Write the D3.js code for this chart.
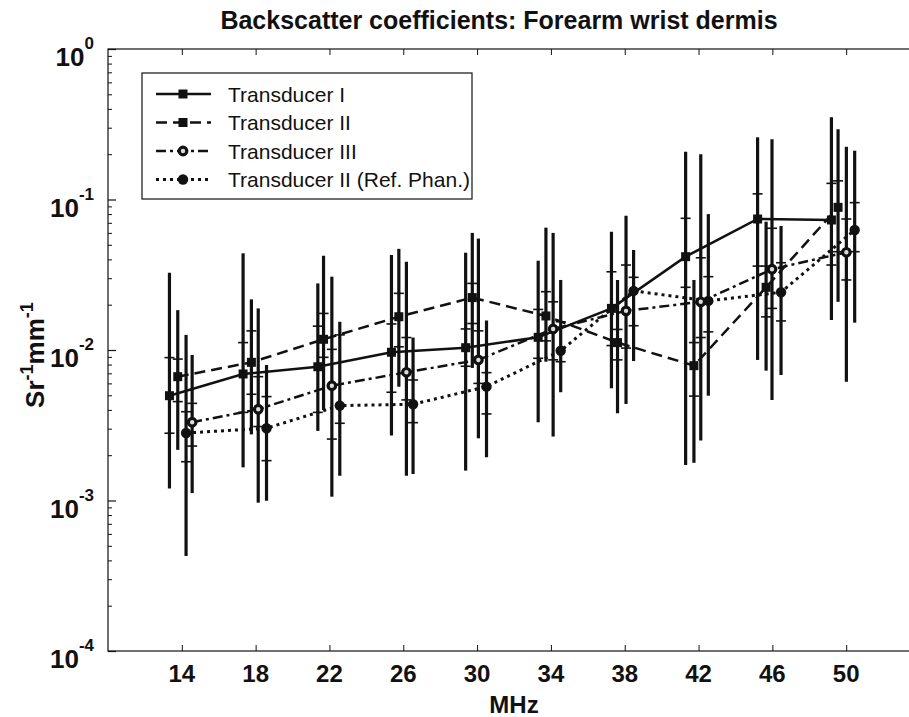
<!DOCTYPE html>
<html>
<head>
<meta charset="utf-8">
<script src="https://cdn.jsdelivr.net/npm/d3@7"></script>
<style>
  html, body { margin: 0; padding: 0; background: #fff; }
  svg { display: block; font-family: "Liberation Sans", Arial, sans-serif; }
</style>
</head>
<body>
<svg id="chart" width="909" height="717"></svg>
<script>
// Frequency ticks (MHz) and decade ticks
const freqTicks = [14, 18, 22, 26, 30, 34, 38, 42, 46, 50];
const decadeExps = [-4, -3, -2, -1, 0];

const seriesNames = ["Transducer I", "Transducer II", "Transducer III", "Transducer II (Ref. Phan.)"];

// Transducer I
const t1X     = [13.33, 17.32, 21.37, 25.36, 29.38, 33.31, 37.28, 41.30, 45.20, 49.20];
const t1Mean  = [0.00497, 0.00693, 0.00774, 0.00966, 0.01036, 0.01214, 0.0189, 0.0417, 0.0742, 0.0731];
const t1Hi    = [0.0326, 0.0439, 0.0277, 0.0428, 0.0443, 0.0392, 0.0611, 0.208, 0.259, 0.352];
const t1Lo    = [0.00120, 0.00166, 0.0029, 0.0027, 0.00158, 0.00331, 0.00556, 0.00172, 0.00859, 0.0158];
const t1SdHi  = [0.0089, 0.0112, 0.0144, 0.0149, 0.0138, 0.0186, 0.0331, 0.075, 0.109, 0.128];
const t1SdLo  = [0.0028, 0.00385, 0.00385, 0.00524, 0.0078, 0.00881, 0.0107, 0.0261, 0.0361, 0.0367];

// Transducer II
const t2X     = [13.78, 17.77, 21.68, 25.76, 29.74, 33.73, 37.61, 41.75, 45.66, 49.56];
const t2Mean  = [0.00665, 0.00828, 0.01178, 0.01664, 0.0223, 0.01683, 0.0112, 0.00787, 0.0261, 0.0887];
const t2Hi    = [0.0184, 0.0217, 0.0423, 0.047, 0.060, 0.065, 0.0292, 0.0292, 0.0712, 0.293];
const t2Lo    = [0.00217, 0.00275, 0.00399, 0.0057, 0.0076, 0.00836, 0.0038, 0.00178, 0.00729, 0.0209];
const t2SdHi  = [0.0087, 0.0134, 0.0175, 0.0238, 0.0277, 0.0244, 0.0137, 0.0112, 0.0361, 0.133];
const t2SdLo  = [0.00454, 0.00508, 0.00894, 0.0105, 0.015, 0.0115, 0.0086, 0.00494, 0.0166, 0.045];

// Transducer III
const t3X     = [14.56, 18.14, 22.13, 26.17, 30.07, 34.12, 38.07, 42.12, 45.98, 50.01];
const t3Mean  = [0.00331, 0.00404, 0.00579, 0.00711, 0.00859, 0.0138, 0.0182, 0.0209, 0.0344, 0.0446];
const t3Hi    = [0.00927, 0.0189, 0.0307, 0.0386, 0.055, 0.060, 0.078, 0.20, 0.251, 0.224];
const t3Lo    = [0.00112, 0.000967, 0.00106, 0.00146, 0.00259, 0.00266, 0.00438, 0.0025, 0.00466, 0.00615];
const t3SdHi  = [0.00442, 0.00665, 0.0101, 0.0121, 0.0134, 0.0209, 0.0367, 0.041, 0.0644, 0.0742];
const t3SdLo  = [0.0023, 0.0031, 0.00256, 0.00466, 0.006, 0.0086, 0.0103, 0.0121, 0.0189, 0.0292];

// Transducer II with reference phantom
const t4X     = [14.23, 18.59, 22.56, 26.53, 30.51, 34.53, 38.48, 42.53, 46.47, 50.46];
const t4Mean  = [0.00281, 0.00302, 0.00427, 0.00436, 0.00571, 0.00989, 0.0247, 0.0212, 0.0242, 0.0627];
const t4Hi    = [0.0126, 0.00795, 0.0154, 0.0121, 0.0157, 0.0292, 0.0462, 0.080, 0.0667, 0.211];
const t4Lo    = [0.000428, 0.000998, 0.00146, 0.0015, 0.00194, 0.00524, 0.00845, 0.00497, 0.00682, 0.0152];
const t4SdHi  = [0.00389, 0.0049, 0.0126, 0.00632, 0.00707, 0.0154, 0.0304, 0.0307, 0.038, 0.0953];
const t4SdLo  = [0.00181, 0.00184, 0.00326, 0.00329, 0.00376, 0.00836, 0.0145, 0.0132, 0.0156, 0.045];

const seriesX    = [t1X, t2X, t3X, t4X];
const seriesMean = [t1Mean, t2Mean, t3Mean, t4Mean];
const seriesHi   = [t1Hi, t2Hi, t3Hi, t4Hi];
const seriesLo   = [t1Lo, t2Lo, t3Lo, t4Lo];
const seriesSdHi = [t1SdHi, t2SdHi, t3SdHi, t4SdHi];
const seriesSdLo = [t1SdLo, t2SdLo, t3SdLo, t4SdLo];

// Line and marker styling per series
const dashes  = [null, "11,6", "10,4,3,4", "3,4"];
const markers = ["square", "square", "ring", "circle"];

const svg = d3.select("#chart");
const plotLeft = 108, plotRight = 920, plotTop = 49, plotBottom = 651;
const x = d3.scaleLinear().domain([10, 54]).range([plotLeft, plotRight]);
const y = d3.scaleLog().domain([1e-4, 1]).range([plotBottom, plotTop]);
const ink = "#111";

// Plot frame
svg.append("rect")
  .attr("x", plotLeft).attr("y", plotTop)
  .attr("width", plotRight - plotLeft).attr("height", plotBottom - plotTop)
  .attr("fill", "none").attr("stroke", ink).attr("stroke-width", 1.2);

// X ticks, bottom and top, pointing inward
svg.append("g").attr("transform", `translate(0,${plotBottom})`)
  .call(d3.axisBottom(x).tickValues(freqTicks).tickSize(-6).tickFormat(""))
  .call(g => g.select(".domain").remove())
  .call(g => g.selectAll("line").attr("stroke", ink));
svg.append("g").attr("transform", `translate(0,${plotTop})`)
  .call(d3.axisTop(x).tickValues(freqTicks).tickSize(-6).tickFormat(""))
  .call(g => g.select(".domain").remove())
  .call(g => g.selectAll("line").attr("stroke", ink));

// Y ticks: decades (long) and minor (short)
const minorVals = [];
for (let e = -4; e < 0; e++) for (let m = 2; m <= 9; m++) minorVals.push(m * Math.pow(10, e));
svg.append("g").attr("transform", `translate(${plotLeft},0)`)
  .call(d3.axisLeft(y).tickValues(decadeExps.map(e => Math.pow(10, e))).tickSize(-8).tickFormat(""))
  .call(g => g.select(".domain").remove())
  .call(g => g.selectAll("line").attr("stroke", ink).attr("stroke-width", 1.2));
svg.append("g").attr("transform", `translate(${plotLeft},0)`)
  .call(d3.axisLeft(y).tickValues(minorVals).tickSize(-4).tickFormat(""))
  .call(g => g.select(".domain").remove())
  .call(g => g.selectAll("line").attr("stroke", ink));

// X tick labels
svg.append("g").selectAll("text").data(freqTicks).join("text")
  .attr("x", d => x(d)).attr("y", 682)
  .attr("text-anchor", "middle")
  .attr("font-size", 24).attr("font-weight", "bold").attr("fill", ink)
  .text(d => d);

// Y tick labels with superscript exponents
decadeExps.forEach(e => {
  const t = svg.append("text")
    .attr("x", 94).attr("y", y(Math.pow(10, e)) + 17)
    .attr("text-anchor", "end")
    .attr("font-size", 26).attr("font-weight", "bold").attr("fill", ink);
  t.append("tspan").text("10");
  t.append("tspan").attr("dy", -17).attr("font-size", 17).text(String(e));
});

// Axis titles
svg.append("text")
  .attr("x", x(32)).attr("y", 713)
  .attr("text-anchor", "middle")
  .attr("font-size", 24).attr("font-weight", "bold").attr("fill", ink)
  .text("MHz");

const yt = svg.append("text")
  .attr("transform", "translate(44,355) rotate(-90)")
  .attr("text-anchor", "middle")
  .attr("font-size", 26).attr("font-weight", "bold").attr("fill", ink);
yt.append("tspan").text("Sr");
yt.append("tspan").attr("dy", -11).attr("font-size", 18).text("-1");
yt.append("tspan").attr("dy", 11).text("mm");
yt.append("tspan").attr("dy", -11).attr("font-size", 18).text("-1");

// Title
svg.append("text")
  .attr("x", 499).attr("y", 29)
  .attr("text-anchor", "middle")
  .attr("font-size", 25).attr("font-weight", "bold").attr("fill", ink)
  .text("Backscatter coefficients: Forearm wrist dermis");

// Error bars: full range line plus short cross ticks at the inner spread
const plot = svg.append("g");
seriesNames.forEach((name, s) => {
  const g = plot.append("g");
  seriesX[s].forEach((f, i) => {
    const cx = x(f);
    g.append("line")
      .attr("x1", cx).attr("x2", cx)
      .attr("y1", y(seriesLo[s][i])).attr("y2", y(seriesHi[s][i]))
      .attr("stroke", ink).attr("stroke-width", 3.2);
    [seriesSdLo[s][i], seriesSdHi[s][i]].forEach(v => {
      g.append("line")
        .attr("x1", cx - 5).attr("x2", cx + 5)
        .attr("y1", y(v)).attr("y2", y(v))
        .attr("stroke", ink).attr("stroke-width", 1.6);
    });
  });
});

// Connecting lines
const line = d3.line().x(d => x(d[0])).y(d => y(d[1]));
seriesNames.forEach((name, s) => {
  const pts = seriesX[s].map((f, i) => [f, seriesMean[s][i]]);
  plot.append("path")
    .attr("d", line(pts))
    .attr("fill", "none").attr("stroke", ink)
    .attr("stroke-width", s === 3 ? 3 : 2.5)
    .attr("stroke-dasharray", dashes[s]);
});

// Markers
function drawMarker(g, kind, cx, cy) {
  if (kind === "square") {
    g.append("rect").attr("x", cx - 4.5).attr("y", cy - 4.5)
      .attr("width", 9).attr("height", 9).attr("fill", ink);
  } else if (kind === "ring") {
    g.append("circle").attr("cx", cx).attr("cy", cy).attr("r", 3.8)
      .attr("fill", "#ddd").attr("stroke", ink).attr("stroke-width", 3.2);
  } else {
    g.append("circle").attr("cx", cx).attr("cy", cy).attr("r", 5.2)
      .attr("fill", ink);
  }
}
seriesNames.forEach((name, s) => {
  const g = plot.append("g");
  seriesX[s].forEach((f, i) => drawMarker(g, markers[s], x(f), y(seriesMean[s][i])));
});

// Legend
const lg = svg.append("g");
lg.append("rect")
  .attr("x", 142).attr("y", 73).attr("width", 330).attr("height", 126)
  .attr("fill", "#fff").attr("stroke", ink).attr("stroke-width", 1.2);
seriesNames.forEach((name, s) => {
  const cy = 94 + s * 28.5;
  lg.append("line")
    .attr("x1", 156).attr("x2", 211).attr("y1", cy).attr("y2", cy)
    .attr("stroke", ink).attr("stroke-width", s === 3 ? 3 : 2.5)
    .attr("stroke-dasharray", dashes[s]);
  drawMarker(lg, markers[s], 183, cy);
  lg.append("text")
    .attr("x", 228).attr("y", cy + 7.5)
    .attr("font-size", 21).attr("fill", ink)
    .text(name);
});
</script>
</body>
</html>
